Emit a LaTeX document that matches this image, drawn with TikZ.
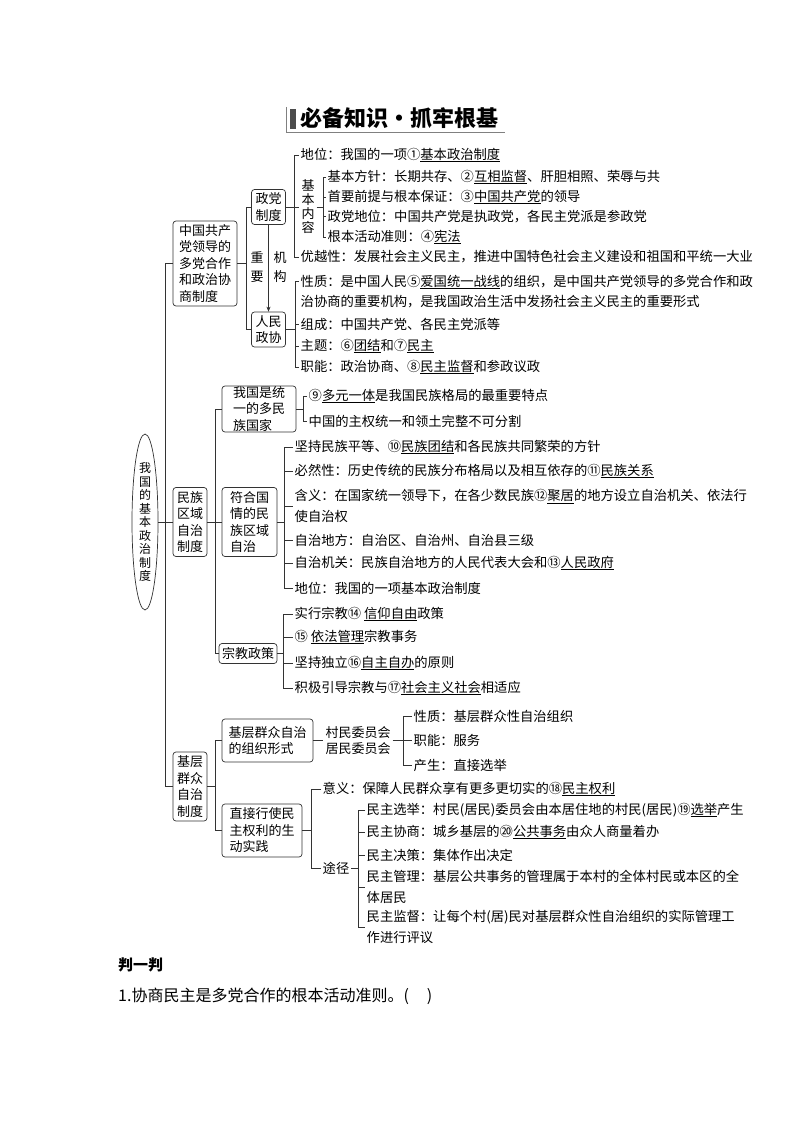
\documentclass[tikz,border=0pt]{standalone}
\usepackage{fontspec}
\setmainfont{Noto Sans CJK SC}
\usetikzlibrary{shapes.geometric,arrows.meta,calc}
\newcommand{\uln}[1]{\underline{#1}}
\begin{document}
\begin{tikzpicture}[x=1pt,y=-1pt,
  every node/.style={inner sep=0pt, text=black},
  ln/.style={line width=0.7pt, draw=black!80},
  box/.style={draw=black!80, line width=0.7pt, rounded corners=3pt, align=left,
     font=\fontsize{13}{16.5}\selectfont},
  item/.style={anchor=west, inner xsep=1.5pt, align=left, font=\fontsize{13.3}{20.5}\selectfont},
  plain/.style={align=center, font=\fontsize{13}{16.5}\selectfont},
]
\useasboundingbox (0,0) rectangle (794,1123);
\fill[white] (0,0) rectangle (794,1123);

% title
\draw[gray, line width=0.6pt] (286,107) -- (286,132) -- (505,132);
\fill[black!70] (290,109) rectangle (296,129);
\node[anchor=west, font=\fontsize{22}{22}\selectfont\bfseries] (title) at (300,118.5) {必备知识·抓牢根基};

% root
\node[draw=black!80, line width=0.7pt, ellipse, minimum width=26, minimum height=176, align=center,
      font=\fontsize{12}{13.5}\selectfont] (root) at (145,522) {我\\国\\的\\基\\本\\政\\治\\制\\度};

% ---------- section 1
\node[box, minimum width=64, minimum height=85] (b1) at (205,263.5) {中国共产\\党领导的\\多党合作\\和政治协\\商制度};
\node[box, minimum width=34, minimum height=35, align=center] (zd) at (268.5,207) {政党\\制度};
\node[box, minimum width=34, minimum height=35, align=center] (rm) at (268.5,329.5) {人民\\政协};
\node[plain, font=\fontsize{13}{14}\selectfont, inner xsep=2pt] (jbnr) at (308,207) {基\\本\\内\\容};
\node[plain, font=\fontsize{13}{19}\selectfont] (zy) at (257,267) {重\\要};
\node[plain, font=\fontsize{13}{19}\selectfont] (jg) at (280,267) {机\\构};

\node[item] (a1) at (299,155) {地位：我国的一项①\uln{基本政治制度}};
\node[item] (a2) at (299,257) {优越性：发展社会主义民主，推进中国特色社会主义建设和祖国和平统一大业};
\node[item] (c1) at (326,177) {基本方针：长期共存、②\uln{互相监督}、肝胆相照、荣辱与共};
\node[item] (c2) at (326,197) {首要前提与根本保证：③\uln{中国共产党}的领导};
\node[item] (c3) at (326,216.5) {政党地位：中国共产党是执政党，各民主党派是参政党};
\node[item] (c4) at (326,237) {根本活动准则：④\uln{宪法}};
\node[item] (d1) at (299,291.5) {性质：是中国人民⑤\uln{爱国统一战线}的组织，是中国共产党领导的多党合作和政\\治协商的重要机构，是我国政治生活中发扬社会主义民主的重要形式};
\node[item] (d2) at (299,324) {组成：中国共产党、各民主党派等};
\node[item] (d3) at (299,346) {主题：⑥\uln{团结}和⑦\uln{民主}};
\node[item] (d4) at (299,367) {职能：政治协商、⑧\uln{民主监督}和参政议政};

% ---------- section 2
\node[box, minimum width=34, minimum height=69, align=center] (mz) at (190,522) {民族\\区域\\自治\\制度};
\node[box, minimum width=74, minimum height=46] (ty) at (259,409) {我国是统\\一的多民\\族国家};
\node[box, minimum width=55, minimum height=69] (fh) at (249.5,522) {符合国\\情的民\\族区域\\自治};
\node[box, minimum width=58, minimum height=20] (zj) at (248,653.5) {宗教政策};

\node[item] (e1) at (307,396) {⑨\uln{多元一体}是我国民族格局的最重要特点};
\node[item] (e2) at (307,421) {中国的主权统一和领土完整不可分割};
\node[item] (f1) at (293,447) {坚持民族平等、⑩\uln{民族团结}和各民族共同繁荣的方针};
\node[item] (f2) at (293,471) {必然性：历史传统的民族分布格局以及相互依存的⑪\uln{民族关系}};
\node[item] (f3) at (293,506) {含义：在国家统一领导下，在各少数民族⑫\uln{聚居}的地方设立自治机关、依法行\\使自治权};
\node[item] (f4) at (293,540) {自治地方：自治区、自治州、自治县三级};
\node[item] (f5) at (293,563) {自治机关：民族自治地方的人民代表大会和⑬\uln{人民政府}};
\node[item] (f6) at (293,588) {地位：我国的一项基本政治制度};
\node[item] (g1) at (293,614) {实行宗教⑭ \uln{信仰自由}政策};
\node[item] (g2) at (293,637) {⑮ \uln{依法管理}宗教事务};
\node[item] (g3) at (293,663) {坚持独立⑯\uln{自主自办}的原则};
\node[item] (g4) at (293,688) {积极引导宗教与⑰\uln{社会主义社会}相适应};

% ---------- section 3
\node[box, minimum width=34, minimum height=69, align=center] (jc) at (190,786.5) {基层\\群众\\自治\\制度};
\node[box, minimum width=91, minimum height=43] (zz) at (267.5,740.5) {基层群众自治\\的组织形式};
\node[plain, inner xsep=2pt] (cm) at (358,740.5) {村民委员会\\居民委员会};
\node[box, minimum width=80, minimum height=53] (zjx) at (262,830.5) {直接行使民\\主权利的生\\动实践};
\node[item] (tj) at (321,868) {途径};

\node[item] (h1) at (412,716) {性质：基层群众性自治组织};
\node[item] (h2) at (412,740.5) {职能：服务};
\node[item] (h3) at (412,765) {产生：直接选举};
\node[item] (i1) at (321,789) {意义：保障人民群众享有更多更切实的⑱\uln{民主权利}};
\node[item] (j1) at (365,810) {民主选举：村民(居民)委员会由本居住地的村民(居民)⑲\uln{选举}产生};
\node[item] (j2) at (365,832) {民主协商：城乡基层的⑳\uln{公共事务}由众人商量着办};
\node[item] (j3) at (365,855) {民主决策：集体作出决定};
\node[item] (j4) at (365,887) {民主管理：基层公共事务的管理属于本村的全体村民或本区的全\\体居民};
\node[item] (j5) at (365,927) {民主监督：让每个村(居)民对基层群众性自治组织的实际管理工\\作进行评议};

% bottom
\node[anchor=west, font=\fontsize{15}{15}\selectfont\bfseries] (pyp) at (118,965) {判一判};
\node[anchor=west, font=\fontsize{16}{16}\selectfont] (q1) at (118,996) {1.协商民主是多党合作的根本活动准则。(\hspace{18pt})};

% ---------- connectors
\coordinate (T) at (165,0);
\coordinate (V1) at (246,0);
\coordinate (V2) at (294,0);
\coordinate (V3) at (323,0);
\coordinate (V4) at (295,0);
\coordinate (V5) at (215,0);
\coordinate (V6) at (303,0);
\coordinate (V7) at (284,0);
\coordinate (V8) at (283,0);
\coordinate (V10) at (403,0);
\coordinate (V11) at (311,0);
\coordinate (V12) at (358,0);
\coordinate (d1t) at ($(d1.west)+(0,-10.25)$);

\draw[ln] (root.east) -- (root.east -| T);
\draw[ln] (b1.west) -- (b1.west -| T) -- (jc.west -| T) -- (jc.west);
\draw[ln] (mz.west) -- (mz.west -| T);

\draw[ln] (b1.east) -- (b1.east -| V1);
\draw[ln] (zd.west) -- (zd.west -| V1) -- (rm.west -| V1) -- (rm.west);
\draw[ln, -{Stealth[length=5pt,width=4pt]}] (zd.south) -- (rm.north);

\draw[ln] (zd.east) -- (zd.east -| V2);
\draw[ln] (a1.west) -- (a1.west -| V2) -- (a2.west -| V2) -- (a2.west);
\draw[ln] (jbnr.west -| V2) -- (jbnr.west);
\draw[ln] (jbnr.east) -- (jbnr.east -| V3);
\draw[ln] (c1.west) -- (c1.west -| V3) -- (c4.west -| V3) -- (c4.west);
\foreach \n in {c2,c3} \draw[ln] (\n.west -| V3) -- (\n.west);

\draw[ln] (rm.east) -- (rm.east -| V4);
\draw[ln] (d1t) -- (d1t -| V4) -- (d4.west -| V4) -- (d4.west);
\foreach \n in {d2,d3} \draw[ln] (\n.west -| V4) -- (\n.west);

\draw[ln] (mz.east) -- (mz.east -| V5);
\draw[ln] (ty.west) -- (ty.west -| V5) -- (zj.west -| V5) -- (zj.west);
\draw[ln] (fh.west -| V5) -- (fh.west);

\draw[ln] (ty.east) -- (ty.east -| V6);
\draw[ln] (e1.west) -- (e1.west -| V6) -- (e2.west -| V6) -- (e2.west);

\draw[ln] (fh.east) -- (fh.east -| V7);
\draw[ln] (f1.west) -- (f1.west -| V7) -- (f6.west -| V7) -- (f6.west);
\foreach \n in {f2,f3,f4,f5} \draw[ln] (\n.west -| V7) -- (\n.west);

\draw[ln] (zj.east) -- (zj.east -| V8);
\draw[ln] (g1.west) -- (g1.west -| V8) -- (g4.west -| V8) -- (g4.west);
\foreach \n in {g2,g3} \draw[ln] (\n.west -| V8) -- (\n.west);

\draw[ln] (jc.east) -- (jc.east -| V5);
\draw[ln] (zz.west) -- (zz.west -| V5) -- (zjx.west -| V5) -- (zjx.west);
\draw[ln] (zz.east) -- (cm.west);

\draw[ln] (cm.east) -- (cm.east -| V10);
\draw[ln] (h1.west) -- (h1.west -| V10) -- (h3.west -| V10) -- (h3.west);
\draw[ln] (h2.west -| V10) -- (h2.west);

\draw[ln] (zjx.east) -- (zjx.east -| V11);
\draw[ln] (i1.west) -- (i1.west -| V11) -- (tj.west -| V11) -- (tj.west);

\draw[ln] (tj.east) -- (tj.east -| V12);
\draw[ln] (j1.west) -- (j1.west -| V12) -- (j5.west -| V12) -- (j5.west);
\foreach \n in {j2,j3,j4} \draw[ln] (\n.west -| V12) -- (\n.west);
\end{tikzpicture}
\end{document}
